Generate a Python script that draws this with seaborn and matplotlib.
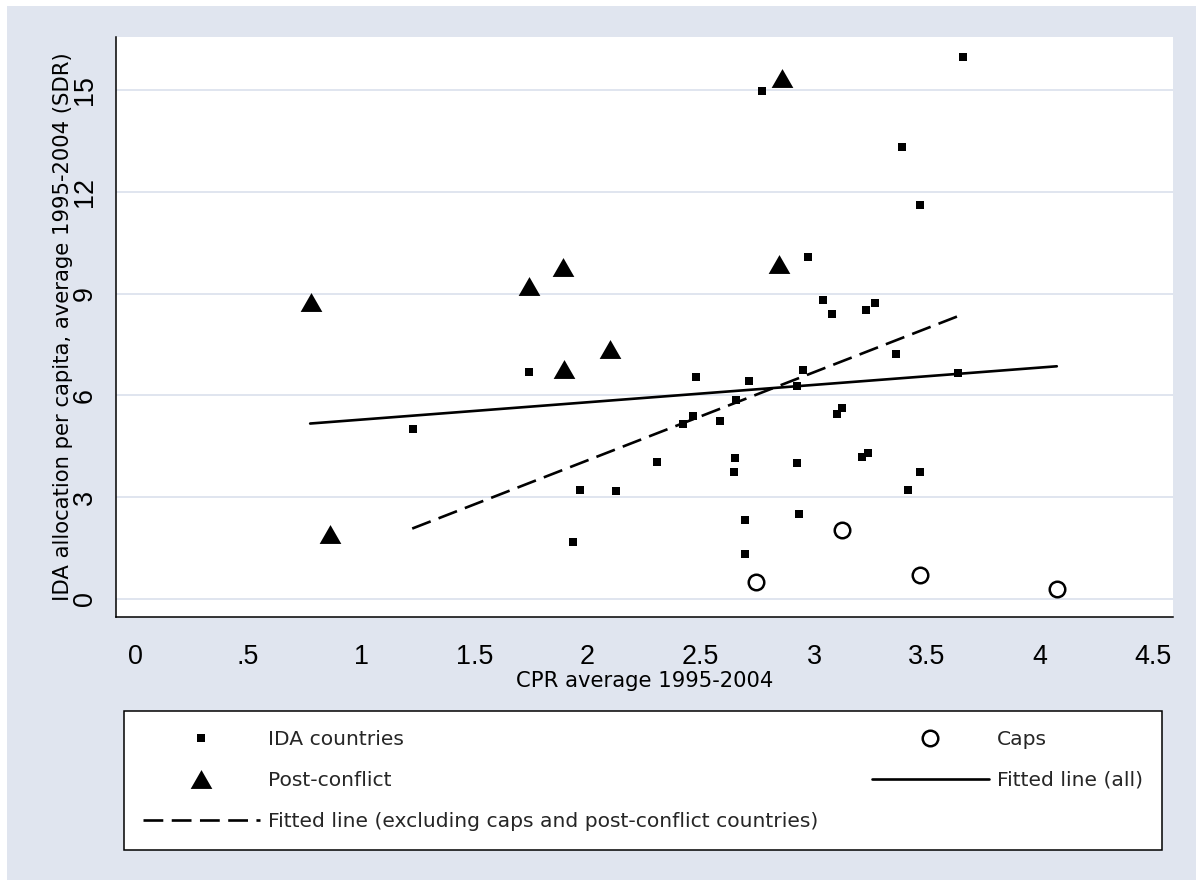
import matplotlib
matplotlib.use("Agg")
import matplotlib.pyplot as plt
import seaborn as sns
from matplotlib.lines import Line2D
from matplotlib.patches import Rectangle

# dati
ida_x = [1.230, 1.740, 1.937, 1.966, 2.126, 2.305, 2.420, 2.467, 2.479, 2.585,
         2.647, 2.653, 2.656, 2.694, 2.697, 2.713, 2.771, 2.924, 2.924, 2.936,
         2.953, 2.975, 3.042, 3.079, 3.101, 3.122, 3.213, 3.229, 3.238, 3.270,
         3.363, 3.389, 3.415, 3.469, 3.469, 3.635, 3.659]
ida_y = [5.00, 6.70, 1.67, 3.22, 3.19, 4.03, 5.16, 5.40, 6.55, 5.25,
         3.74, 4.16, 5.86, 1.33, 2.32, 6.42, 14.98, 6.27, 4.01, 2.50,
         6.75, 10.10, 8.83, 8.39, 5.44, 5.62, 4.18, 8.52, 4.31, 8.72,
         7.21, 13.34, 3.20, 11.62, 3.74, 6.65, 15.98]

post_x = [0.776, 0.862, 1.741, 1.890, 1.894, 2.099, 2.846, 2.858]
post_y = [8.77, 1.90, 9.23, 9.80, 6.77, 7.37, 9.88, 15.36]

caps_x = [2.744, 3.122, 3.469, 4.073]
caps_y = [0.49, 2.04, 0.69, 0.28]

fit_all_x = [0.774, 4.073]
fit_all_y = [5.17, 6.86]
fit_excl_x = [1.225, 3.660]
fit_excl_y = [2.07, 8.40]

x_ticks = [0, 0.5, 1, 1.5, 2, 2.5, 3, 3.5, 4, 4.5]
x_labels = ["0", ".5", "1", "1.5", "2", "2.5", "3", "3.5", "4", "4.5"]
y_ticks = [0, 3, 6, 9, 12, 15]
y_labels = ["0", "3", "6", "9", "12", "15"]

legend_labels = ["IDA countries", "Post-conflict",
                 "Fitted line (excluding caps and post-conflict countries)",
                 "Caps", "Fitted line (all)"]

sns.set_style("white")
plt.rcParams['font.family'] = ['Liberation Sans', 'DejaVu Sans']
wide = ['DejaVu Sans']

bg = '#e0e5ef'
fig = plt.figure(figsize=(12.03, 8.86), dpi=100, facecolor='white')
fig.patches.append(Rectangle((7 / 1203, 6 / 886), 1 - 14 / 1203, 1 - 12 / 886,
                             transform=fig.transFigure, facecolor=bg,
                             edgecolor='none', zorder=-10))

ax = fig.add_axes([0.0962, 0.304, 0.8786, 0.6539])
ax.set_facecolor('white')

tri = [(-1, -0.87), (1, -0.87), (0, 0.87)]
lw = 1.9
dash = (0, (7.5, 3.2))

sns.lineplot(x=fit_all_x, y=fit_all_y, color='black', linewidth=lw, ax=ax, zorder=3)
sns.lineplot(x=fit_excl_x, y=fit_excl_y, color='black', linewidth=lw,
             linestyle=dash, ax=ax, zorder=3)

sns.scatterplot(x=ida_x, y=ida_y, marker='s', s=28, color='black',
                linewidth=0, ax=ax, zorder=4)
sns.scatterplot(x=post_x, y=post_y, marker=tri, s=244, color='black',
                linewidth=0, ax=ax, zorder=4)
sns.scatterplot(x=caps_x, y=caps_y, marker='o', s=125, facecolor='white',
                edgecolor='black', linewidth=1.8, ax=ax, zorder=4)

ax.set_xlim(-0.085, 4.585)
ax.set_ylim(-0.53, 16.57)
ax.set_xticks(x_ticks)
ax.set_xticklabels(x_labels)
ax.set_yticks(y_ticks)
ax.set_yticklabels(y_labels, rotation=90, va='center')
ax.grid(axis='y', color='#dde3ee', linewidth=1.3, zorder=0)
ax.set_axisbelow(True)

for s in ['top', 'right']:
    ax.spines[s].set_visible(False)
for s in ['left', 'bottom']:
    ax.spines[s].set_color('black')
    ax.spines[s].set_linewidth(1.1)

ax.tick_params(axis='both', direction='out', length=9.4, width=1.1,
               color='black', labelsize=19.4, labelcolor='black')
ax.tick_params(axis='x', pad=10)
ax.tick_params(axis='y', pad=3.5)

ax.set_xlabel("CPR average 1995-2004", fontsize=15.2, color='black', family=wide)
ax.set_ylabel("IDA allocation per capita, average 1995-2004 (SDR)",
              fontsize=15.2, color='black', family=wide)
ax.xaxis.set_label_coords(0.5, -0.093)
ax.yaxis.set_label_coords(-0.040, 0.5)

handles = [
    Line2D([], [], marker='s', ls='', ms=5.3, color='black', mew=0),
    Line2D([], [], marker=tri, ls='', ms=15.6, color='black', mew=0),
    Line2D([], [], color='black', lw=lw, linestyle=dash),
    Line2D([], [], marker='o', ls='', ms=11.2, mfc='white', mec='black', mew=1.8),
    Line2D([], [], color='black', lw=lw),
]
leg = fig.legend(handles, legend_labels, ncol=2, mode='expand',
                 loc='upper left',
                 bbox_to_anchor=(124 / 1203, 1 - 846 / 886, 1038 / 1203, 135 / 886),
                 bbox_transform=fig.transFigure, frameon=True,
                 prop={'family': wide, 'size': 14.6},
                 fancybox=False, edgecolor='black', facecolor='white',
                 framealpha=1, handlelength=5.8, handletextpad=0.4,
                 borderpad=0.92, labelspacing=1.1, borderaxespad=0)
leg.get_frame().set_linewidth(1.1)

fig.savefig("out.png", dpi=100, facecolor='white')
